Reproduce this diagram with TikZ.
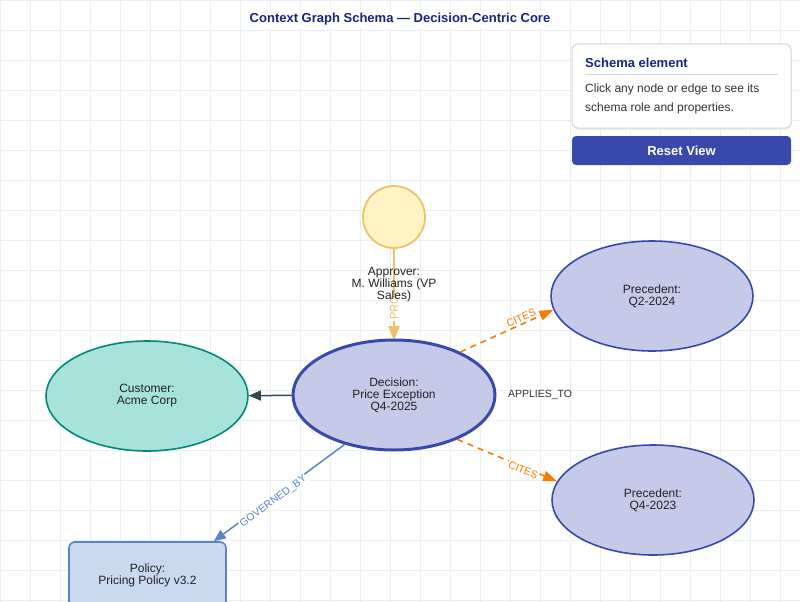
\documentclass[tikz,border=0pt]{standalone}
\usepackage{fontspec}
\setmainfont{Liberation Sans}
\usetikzlibrary{shapes.geometric,arrows.meta}
\definecolor{navy}{HTML}{1A237E}
\definecolor{gridc}{HTML}{EAEFEF}
\definecolor{decfill}{HTML}{C5CAE9}
\definecolor{decline}{HTML}{3949AB}
\definecolor{custfill}{HTML}{A7E3DA}
\definecolor{custline}{HTML}{00897B}
\definecolor{apprfill}{HTML}{FFF3C4}
\definecolor{apprline}{HTML}{E9C46A}
\definecolor{orangec}{HTML}{F57C00}
\definecolor{polfill}{HTML}{C9D9EF}
\definecolor{polline}{HTML}{5B84C4}
\definecolor{darkedge}{HTML}{37474F}
\definecolor{paneline}{HTML}{CFD8DC}
\definecolor{txt}{HTML}{222222}
\definecolor{paneltxt}{HTML}{333333}
\tikzset{
  nodetext/.style={font=\fontsize{12}{12}\selectfont, text=txt, align=center},
  ell/.style={ellipse, nodetext, minimum width=202pt, minimum height=110pt, inner sep=0pt},
  edgelab/.style={font=\fontsize{10.5}{10.5}\selectfont, inner sep=1pt, fill=white},
  tip/.style={-{Triangle[length=12pt,width=10pt]}},
}
\begin{document}
\begin{tikzpicture}[x=1pt,y=-1pt]
\useasboundingbox (0,0) rectangle (800,602);
\clip (0,0) rectangle (800,602);
\fill[white] (0,0) rectangle (800,602);
% grid
\foreach \gx in {0,30,...,780} \draw[gridc, line width=0.7pt] (\gx,0) -- (\gx,602);
\foreach \gy in {0,30,...,600} \draw[gridc, line width=0.7pt] (0,\gy) -- (800,\gy);

% title
\node[fill=white, inner sep=3pt, font=\fontsize{13}{13}\selectfont\bfseries, text=navy] (title) at (400,19) {Context Graph Schema — Decision-Centric Core};

% info panel
\fill[black!6, rounded corners=6pt] (573,46) rectangle (792,130);
\draw[paneline, fill=white, rounded corners=6pt, line width=1pt] (572,44) rectangle (791,128);
\node[anchor=west, font=\fontsize{13}{13}\selectfont\bfseries, text=navy, inner sep=0pt] (ptitle) at (585,63) {Schema element};
\draw[paneline, line width=0.8pt] (585,74) -- (778,74);
\node[anchor=west, font=\fontsize{12}{12}\selectfont, text=paneltxt, inner sep=0pt] (pl1) at (585,89) {Click any node or edge to see its};
\node[anchor=west, font=\fontsize{12}{12}\selectfont, text=paneltxt, inner sep=0pt] (pl2) at (585,108) {schema role and properties.};
% button
\fill[decline, rounded corners=4pt] (572,136) rectangle (791,165);
\node[font=\fontsize{13}{13}\selectfont\bfseries, text=white] (reset) at (681.5,150.5) {Reset View};

% nodes
\node[circle, minimum size=62pt, inner sep=0pt, fill=apprfill, draw=apprline, line width=1.8pt] (appr) at (394,217) {};
\node[rectangle, rounded corners=6pt, minimum width=157pt, minimum height=66pt, fill=polfill, draw=polline, line width=1.6pt, nodetext] (pol) at (147.5,575) {Policy:\\Pricing Policy v3.2};

% edges under nodes
\draw[-{Triangle[length=15pt,width=11pt]}, apprline, line width=2.6pt] (appr) -- (394,341)
  node[pos=0.64, rotate=90, font=\fontsize{11}{11}\selectfont, inner sep=0.8pt, fill=white, text=apprline] {PRO};

\node[nodetext] (applab) at (394,285) {Approver:\\M. Williams (VP\\Sales)};
\node[ell, fill=decfill, draw=decline, line width=3pt] (dec) at (394,395) {Decision:\\Price Exception\\Q4-2025};
\node[ell, fill=custfill, draw=custline, line width=1.6pt] (cust) at (147,396) {Customer:\\Acme Corp};
\node[ell, fill=decfill, draw=decline, line width=1.6pt] (p1) at (652,296) {Precedent:\\Q2-2024};
\node[ell, fill=decfill, draw=decline, line width=1.6pt] (p2) at (653,500) {Precedent:\\Q4-2023};

\draw[tip, darkedge, line width=1.5pt] (dec) -- (cust);
\draw[-{Triangle[length=14pt,width=10pt]}, orangec, line width=1.6pt, dash pattern=on 6pt off 5pt] (dec.33) -- (p1.188)
  node[pos=0.68, sloped, above=0.5pt, edgelab, text=orangec] {CITES};
\draw[-{Triangle[length=14pt,width=10pt]}, orangec, line width=1.6pt, dash pattern=on 6pt off 5pt] (dec.-35) -- (p2.169)
  node[pos=0.67, sloped, below=-3pt, edgelab, text=orangec] {CITES};
\draw[tip, polline, line width=1.5pt] (dec.225) -- ([xshift=-13pt]pol.north east)
  node[pos=0.56, sloped, below=-3pt, edgelab, text=polline] {GOVERNED\_BY};
\node[font=\fontsize{10.5}{10.5}\selectfont, text=paneltxt] (applies) at (540,395) {APPLIES\_TO};
\end{tikzpicture}
\end{document}
